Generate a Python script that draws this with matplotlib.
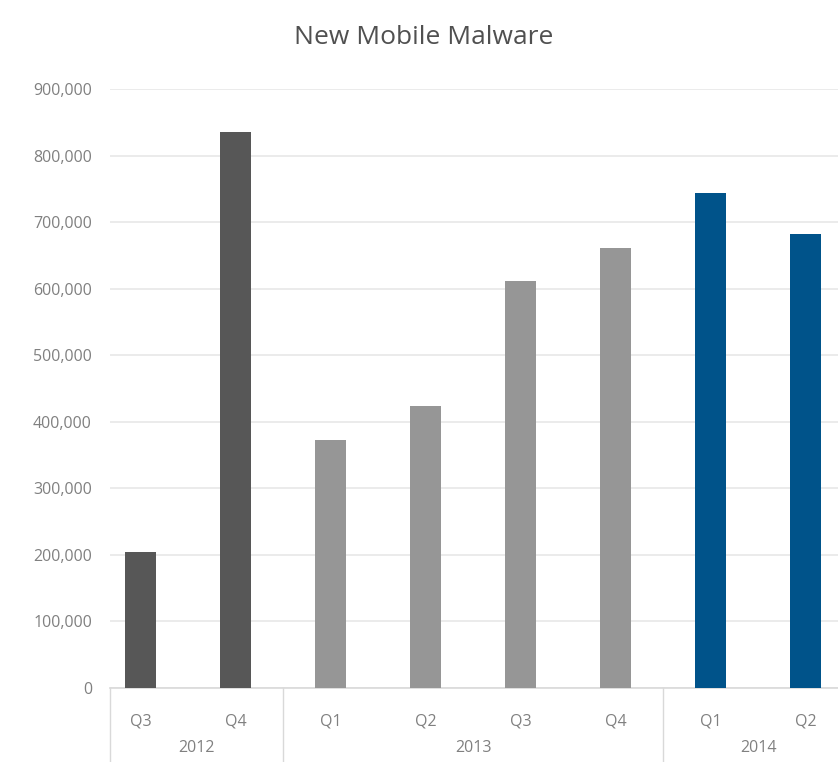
import matplotlib
matplotlib.use("Agg")
import matplotlib.pyplot as plt
import matplotlib.transforms as mtransforms
import numpy as np

title = "New Mobile Malware"
quarters = ["Q3", "Q4", "Q1", "Q2", "Q3", "Q4", "Q1", "Q2"]
years = ["2012", "2013", "2014"]
year_counts = [2, 4, 2]
values = [205000, 835000, 372000, 423000, 611000, 661000, 743000, 682000]
year_colors = ["#575757", "#969696", "#00538a"]

plt.rcParams['font.family'] = ['Open Sans', 'DejaVu Sans']

fig = plt.figure(figsize=(8.38, 7.62), dpi=100)
ax = fig.add_axes([110/838, 1-688/762, 1-110/838, (688-89)/762])

colors = []
for c, n in zip(year_colors, year_counts):
    colors += [c]*n
x = np.arange(len(values))
ax.bar(x, values, width=0.32, color=colors, zorder=3)

xmin = -0.32
ax.set_xlim(xmin, 7.34)
ax.set_ylim(0, 900000)
yt = np.arange(0, 900001, 100000)
ax.set_yticks(yt)
ax.set_yticklabels([f"{v:,.0f}" for v in yt], color="#808080", fontsize=11.5)
ax.tick_params(axis='y', length=0, pad=13)
ax.set_xticks([])
ax.grid(axis='y', color="#e8e8e8", linewidth=1.2, zorder=0)
for s in ["top", "right", "left"]:
    ax.spines[s].set_visible(False)
ax.spines["bottom"].set_color("#d9d9d9")
ax.spines["bottom"].set_linewidth(1.2)

trans = mtransforms.blended_transform_factory(ax.transData, fig.transFigure)
for xi, q in zip(x, quarters):
    ax.text(xi, 1-721/762, q, transform=trans, ha='center', va='center',
            fontsize=11.5, color="#808080")

start = 0
for i, (yr, n) in enumerate(zip(years, year_counts)):
    lo = xmin if i == 0 else start - 0.5
    hi = start + n - 0.5
    ax.text((lo + hi) / 2, 1-748/762, yr, transform=trans, ha='center', va='center',
            fontsize=11.5, color="#808080")
    ax.plot([lo, lo], [1-688/762, 0.0], transform=trans, color="#d9d9d9",
            linewidth=1.0, clip_on=False)
    start += n

fig.text(424/838, 1-37/762, title, ha='center', va='center', fontsize=19,
         color="#505050")

fig.savefig("out.png", dpi=100, facecolor="white")
